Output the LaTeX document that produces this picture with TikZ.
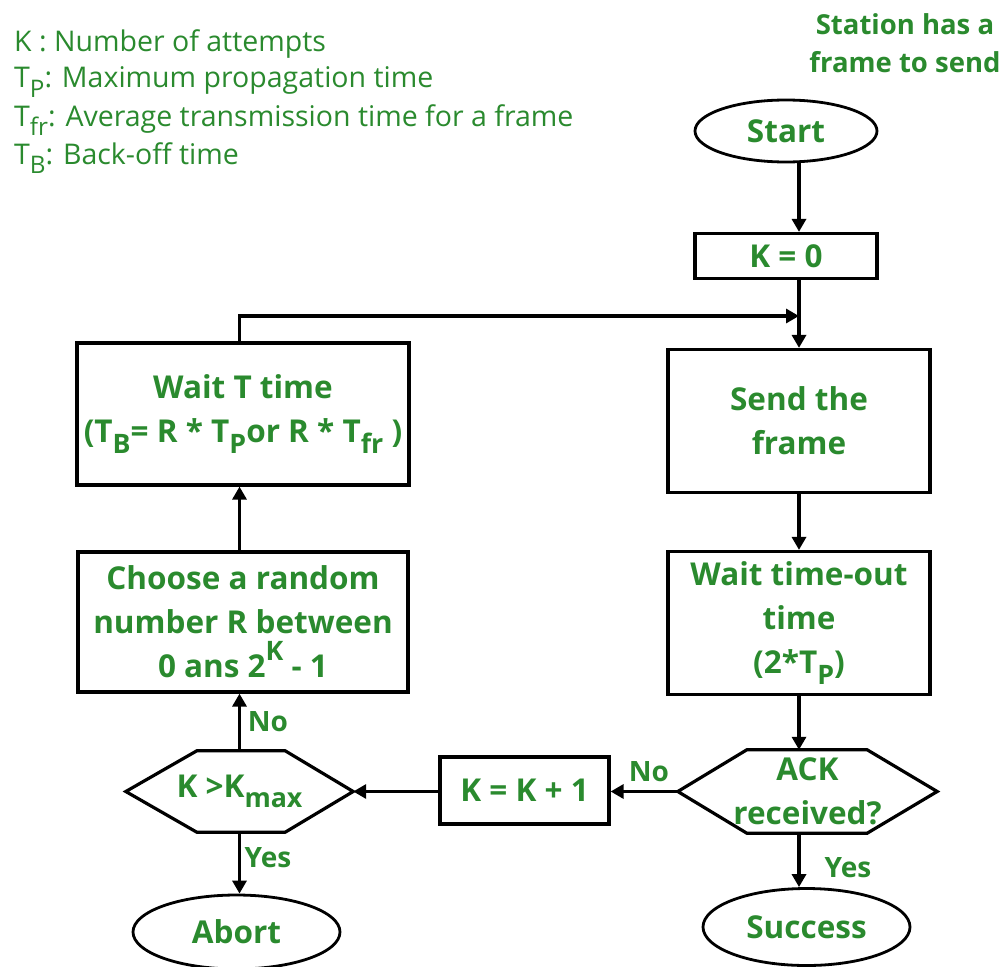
\documentclass[tikz,border=0pt]{standalone}
\usepackage{fontspec}
\setmainfont{Open Sans}
\usetikzlibrary{arrows.meta,shapes.geometric}
\definecolor{leaf}{RGB}{42,138,46}
\newcommand\lowr[1]{\raisebox{-0.34em}{\scalebox{0.85}{#1}}}
\newcommand\highr[1]{\raisebox{0.55em}{\scalebox{0.85}{#1}}}
\tikzset{
  txt/.style={text=leaf, font=\fontsize{31.5}{44}\selectfont\bfseries, align=center, inner sep=0pt},
  legend/.style={text=leaf, font=\fontsize{28.5}{38}\selectfont, align=left, inner sep=0pt, anchor=west},
  boxnode/.style={txt, draw=black, line width=3.2pt, rectangle},
  oval/.style={txt, draw=black, line width=2.8pt, ellipse},
  hexnode/.style={txt, rectangle},
  hexline/.style={draw=black, line width=3.2pt, line join=miter},
  arr/.style={draw=black, line width=3.2pt, -{Triangle[length=13pt,width=14pt]}},
  lbl/.style={text=leaf, font=\fontsize{28}{32}\selectfont\bfseries, inner sep=0pt}
}
\begin{document}
\begin{tikzpicture}[x=1pt,y=-1pt]
\useasboundingbox (0,0) rectangle (1006,966);

% key to the symbols
\node[legend] (l1) at (14,44) {K : Number of attempts};
\node[legend] (l2) at (14,82) {T\lowr{P}: Maximum propagation time};
\node[legend] (l3) at (14,120) {T\lowr{fr}: Average transmission time for a frame};
\node[legend] (l4) at (14,158) {T\lowr{B}: Back-off time};

\node[txt, font=\fontsize{27.5}{38}\selectfont\bfseries] (title) at (905,43) {Station has a\\frame to send};

% right column
\node[oval, minimum width=182pt, minimum height=62pt] (start) at (786,131) {Start};
\node[boxnode, minimum width=182pt, minimum height=45pt] (k0) at (786,256) {K = 0};
\node[boxnode, minimum width=262pt, minimum height=143pt] (send) at (799,421) {Send the\\frame};
\node[boxnode, minimum width=262pt, minimum height=143pt] (waitto) at (799,623) {Wait time-out\\time\\(2*T\lowr{P})};
\node[hexnode, minimum width=259pt, minimum height=83pt] (ack) at (807.5,791.5) {ACK\\received?};
\draw[hexline] (ack.west) -- ([xshift=69pt]ack.north west) -- ([xshift=-70pt]ack.north east)
  -- (ack.east) -- ([xshift=-70pt]ack.south east) -- ([xshift=69pt]ack.south west) -- cycle;
\node[oval, minimum width=207pt, minimum height=77pt] (success) at (806.5,927) {Success};

% middle
\node[boxnode, minimum width=169pt, minimum height=67pt] (inc) at (524.5,790.5) {K = K + 1};

% left column
\node[hexnode, minimum width=227pt, minimum height=81pt] (kmax) at (239.5,791.5) {K >K\lowr{max}};
\draw[hexline] (kmax.west) -- ([xshift=71pt]kmax.north west) -- ([xshift=-68pt]kmax.north east)
  -- (kmax.east) -- ([xshift=-68pt]kmax.south east) -- ([xshift=71pt]kmax.south west) -- cycle;
\node[boxnode, minimum width=330pt, minimum height=140pt] (choose) at (243,622) {Choose a random\\number R between\\0 ans 2\highr{K} - 1};
\node[boxnode, minimum width=332pt, minimum height=142pt] (waitt) at (243,414) {Wait T time\\(T\lowr{B}= R * T\lowr{P}or R * T\lowr{fr} )};
\node[oval, minimum width=207pt, minimum height=74pt] (abort) at (236.5,932) {Abort};

\coordinate (merge) at (799,316);

% connectors
\draw[arr] (start.south -| send.north) -- (k0.north -| send.north);
\draw[arr] (k0.south -| send.north) -- (send.north);
\draw[arr] (waitt.north -| kmax.north) |- (merge);
\draw[arr] (send.south) -- (waitto.north);
\draw[arr] (waitto.south) -- (ack.north -| waitto.south);
\draw[arr] (ack.south -| waitto.south) -- (success.north -| waitto.south);
\draw[arr] (ack.west) -- (inc.east |- ack.west);
\draw[arr] (inc.west |- kmax.east) -- (kmax.east);
\draw[arr] (kmax.north) -- (choose.south -| kmax.north);
\draw[arr] (choose.north -| kmax.north) -- (waitt.south -| kmax.north);
\draw[arr] (kmax.south) -- (abort.north -| kmax.south);

% branch labels
\node[lbl] (yes1) at (848,868) {Yes};
\node[lbl] (no1) at (649,772) {No};
\node[lbl] (no2) at (268,722) {No};
\node[lbl] (yes2) at (268,858) {Yes};
\end{tikzpicture}
\end{document}
